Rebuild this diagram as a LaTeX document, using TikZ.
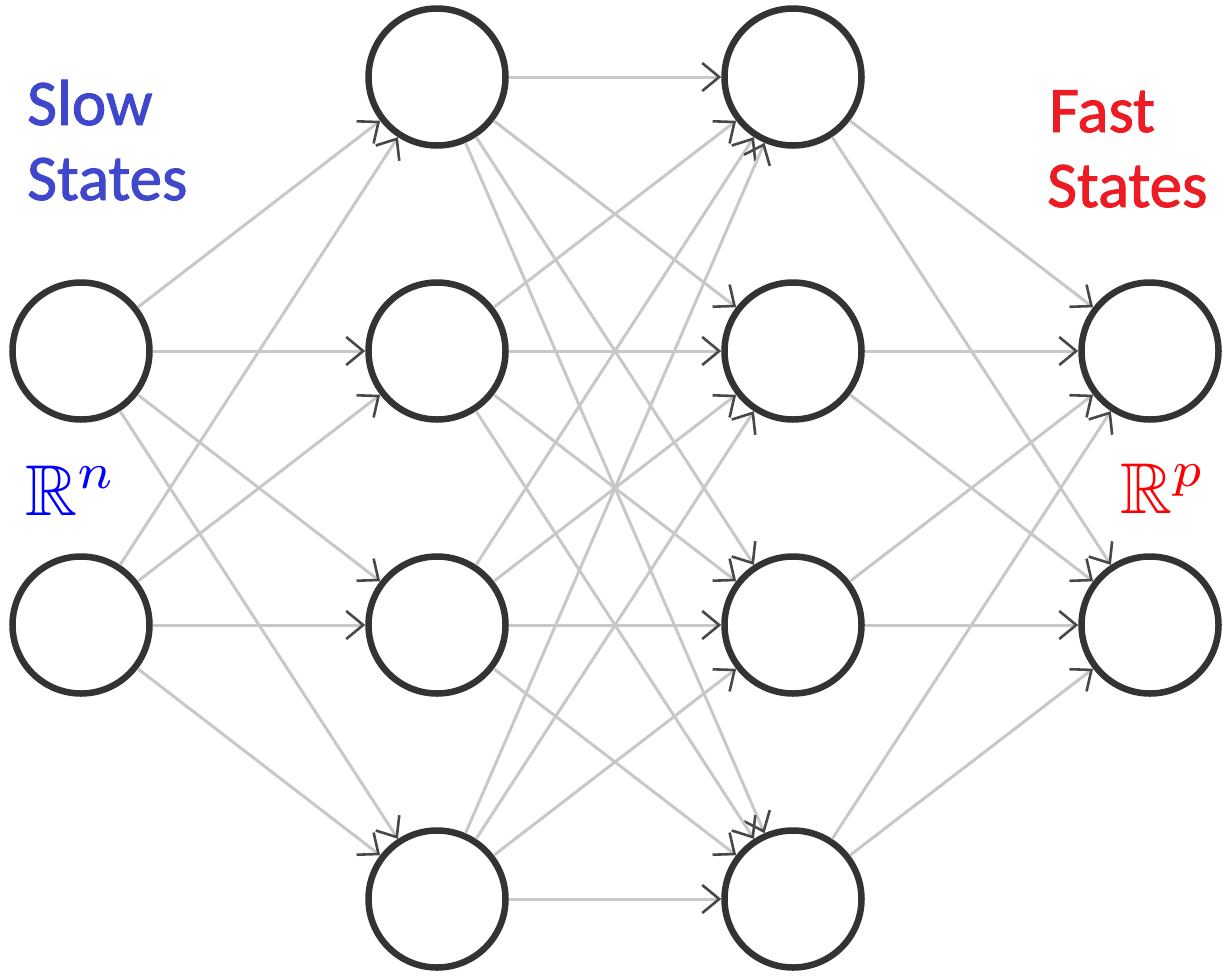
\documentclass[tikz,border=0pt]{standalone}
\usepackage{amssymb}
\usepackage{fontspec}
\newfontfamily\labfont{Carlito}[FakeBold=1.5]
\usetikzlibrary{arrows.meta}
\definecolor{slowblue}{RGB}{63,72,204}
\definecolor{fastred}{RGB}{237,28,36}
\definecolor{ring}{RGB}{51,51,51}
\definecolor{edgegray}{RGB}{200,200,200}
\definecolor{tipgray}{RGB}{72,72,72}
\begin{document}
\begin{tikzpicture}[x=1pt,y=-1pt,
  neuron/.style={circle,draw=ring,line width=6.5pt,minimum size=137pt,inner sep=0pt,fill=white},
  conn/.style={draw=edgegray,line width=3pt,-{Straight Barb[length=17pt,width=28pt,color=tipgray,line width=2.6pt]}},
  lab/.style={anchor=base west,inner sep=0pt,font=\labfont\fontsize{65}{75}\selectfont},
  mlab/.style={anchor=base west,inner sep=0pt,scale=7.2}]
\useasboundingbox (0,0) rectangle (1225,975);
% layer 1
\node[neuron] (a1) at (81,351) {};
\node[neuron] (a2) at (81,625) {};
% layer 2
\node[neuron] (b1) at (437,77) {};
\node[neuron] (b2) at (437,351) {};
\node[neuron] (b3) at (437,625) {};
\node[neuron] (b4) at (437,899) {};
% layer 3
\node[neuron] (c1) at (793,77) {};
\node[neuron] (c2) at (793,351) {};
\node[neuron] (c3) at (793,625) {};
\node[neuron] (c4) at (793,899) {};
% layer 4
\node[neuron] (d1) at (1150,351) {};
\node[neuron] (d2) at (1150,625) {};
% connections
\foreach \i in {1,2} \foreach \j in {1,...,4} \draw[conn] (a\i) -- (b\j);
\foreach \i in {1,...,4} \foreach \j in {1,...,4} \draw[conn] (b\i) -- (c\j);
\foreach \i in {1,...,4} \foreach \j in {1,2} \draw[conn] (c\i) -- (d\j);
% labels
\node[lab,text=slowblue] (slow) at (27,125) {Slow};
\node[lab,text=slowblue] (slowst) at (27,200) {States};
\node[lab,text=fastred] (fast) at (1049,132) {Fast};
\node[lab,text=fastred] (fastst) at (1047,207) {States};
\node[mlab,text=blue] (rn) at (24,515) {$\mathbb{R}^{n}$};
\node[mlab,text=red] (rp) at (1119,513) {$\mathbb{R}^{p}$};
\end{tikzpicture}
\end{document}
